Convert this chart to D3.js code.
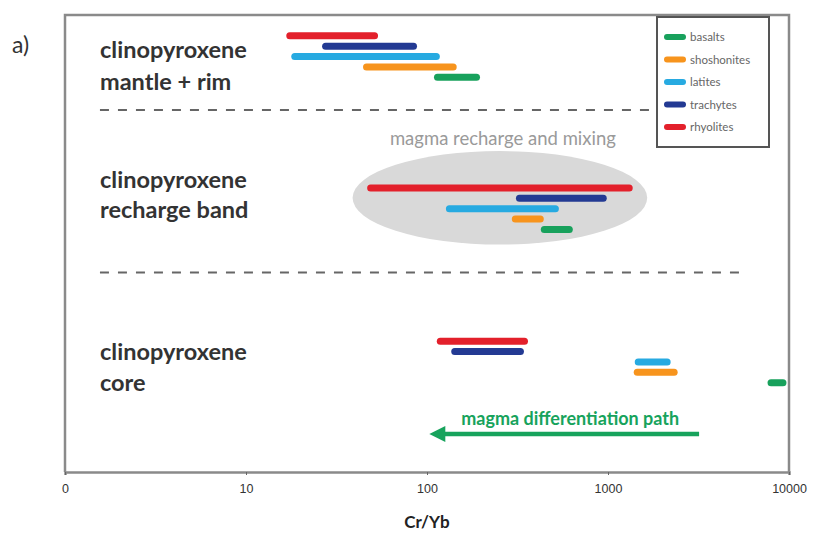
<!DOCTYPE html>
<html>
<head>
<meta charset="utf-8">
<script src="https://cdn.jsdelivr.net/npm/d3@7"></script>
<style>
  body { margin: 0; background: #fff; }
  svg { display: block; }
</style>
</head>
<body>
<div id="chart"></div>
<script>
const width = 818
const height = 533

// rock types, legend order
const rockTypes = ["basalts", "shoshonites", "latites", "trachytes", "rhyolites"]
const rockColors = ["#18a15c", "#f7941d", "#27aae1", "#233a93", "#e3202b"]

// Cr/Yb ranges per zone, same order as rockTypes
const mantleMin = [110, 44.6, 17.9, 26.5, 16.8]
const mantleMax = [195, 145, 117, 87.5, 53.3]
const rechargeMin = [428, 296, 128, 312, 47]
const rechargeMax = [635, 439, 532, 978, 1361]
const coreMin = [7660, 1396, 1414, 137, 114]
const coreMax = [9620, 2410, 2205, 341, 359]

const zoneNames = ["mantle + rim", "recharge band", "core"]
const tickVals = [1, 10, 100, 1000, 10000]
const tickLabels = ["0", "10", "100", "1000", "10000"]

// dashed separators and arrow, in Cr/Yb
const sepLines = [[1.56, 1800], [1.56, 5860]]
const arrowRange = [3186, 103]
const mixingRange = [38.8, 1647]

const svg = d3.select('#chart')
  .append("svg")
  .attr("width", width)
  .attr("height", height)

const x = d3.scaleLog().domain([1, 10000]).range([65, 789])
const y = d3.scaleLinear().domain([0, 44]).range([15, 472])

// zone layout: first row (rhyolites) of each zone
const zoneTop = [2, 16.65, 31.4]
const sepRows = [9.14, 24.8]
const labelRows = [[3.37, 6.45], [15.9, 18.8], [32.45, 35.4]]

// mixing ellipse
svg.append("ellipse")
  .attr("cx", (x(mixingRange[0]) + x(mixingRange[1])) / 2)
  .attr("cy", y(17.6))
  .attr("rx", (x(mixingRange[1]) - x(mixingRange[0])) / 2)
  .attr("ry", y(4.5) - y(0))
  .style("fill", "#d9d9d9")

svg.append("text")
  .attr("x", (x(mixingRange[0]) + x(mixingRange[1])) / 2 + 3)
  .attr("y", y(11.85))
  .attr("dy", "0.35em")
  .style("text-anchor", "middle")
  .style("font-family", "Lato, 'Open Sans', sans-serif")
  .style("font-size", "18.5px")
  .style("fill", "#9a9a9a")
  .text("magma recharge and mixing")

// frame
svg.append("path")
  .attr("d", `M${x(1)},${y(44)} V${y(0)} H${x(10000)} V${y(44)}`)
  .style("fill", "none")
  .style("stroke", "#8a8a8a")
  .style("stroke-width", 2.5)

// axis
const axis = svg.append("g")
  .attr("transform", `translate(0,${y(44)})`)
  .call(d3.axisBottom(x).tickValues(tickVals).tickSize(3)
    .tickFormat((d, i) => tickLabels[i]))
axis.select(".domain").style("stroke", "#8a8a8a").style("stroke-width", 2.5)
axis.selectAll(".tick line").style("stroke", "#666")
axis.selectAll(".tick text")
  .attr("y", 12)
  .style("font-family", "'Liberation Sans', Arial, sans-serif")
  .style("font-size", "12.5px")
  .style("fill", "#333")

svg.append("text")
  .attr("x", x(100))
  .attr("y", 528)
  .style("text-anchor", "middle")
  .style("font-family", "Lato, sans-serif")
  .style("font-weight", "bold")
  .style("font-size", "17px")
  .style("fill", "#222")
  .text("Cr/Yb")

svg.append("text")
  .attr("x", 12)
  .attr("y", 53)
  .style("font-family", "Lato, sans-serif")
  .style("font-size", "23px")
  .style("fill", "#333")
  .text("a)")

// separators
svg.selectAll(".sep")
  .data(sepLines)
  .enter()
  .append("line")
  .classed("sep", true)
  .attr("x1", d => x(d[0]))
  .attr("x2", d => x(d[1]))
  .attr("y1", (d, i) => y(sepRows[i]))
  .attr("y2", (d, i) => y(sepRows[i]))
  .style("stroke", "#666")
  .style("stroke-width", 2)
  .style("stroke-dasharray", "9,9")

// zone labels
zoneNames.forEach((z, i) => {
  const t = svg.append("text")
    .style("font-family", "Lato, sans-serif")
    .style("font-weight", "bold")
    .style("font-size", "23.5px")
    .style("fill", "#333")
  t.append("tspan").attr("x", 100).attr("y", y(labelRows[i][0])).attr("dy", "0.35em").text("clinopyroxene")
  t.append("tspan").attr("x", 100).attr("y", y(labelRows[i][1])).attr("dy", "0.35em").text(z)
})

// bars
const zoneMin = [mantleMin, rechargeMin, coreMin]
const zoneMax = [mantleMax, rechargeMax, coreMax]
const bars = []
zoneMin.forEach((mins, z) => {
  mins.forEach((m, i) => {
    bars.push({ zone: z, rock: i, lo: m, hi: zoneMax[z][i] })
  })
})

svg.selectAll(".bar")
  .data(bars)
  .enter()
  .append("line")
  .classed("bar", true)
  .attr("x1", d => x(d.lo) + 3)
  .attr("x2", d => x(d.hi) - 3)
  .attr("y1", d => y(zoneTop[d.zone] + (4 - d.rock)))
  .attr("y2", d => y(zoneTop[d.zone] + (4 - d.rock)))
  .style("stroke", d => rockColors[d.rock])
  .style("stroke-width", 7)
  .style("stroke-linecap", "round")

// differentiation arrow
const arrowY = y(40.34)
svg.append("line")
  .attr("x1", x(arrowRange[0]))
  .attr("x2", x(arrowRange[1]) + 12)
  .attr("y1", arrowY)
  .attr("y2", arrowY)
  .style("stroke", "#17a35c")
  .style("stroke-width", 4.5)
svg.append("path")
  .attr("d", `M${x(arrowRange[1])},${arrowY} l16,-8 v16 z`)
  .style("fill", "#17a35c")

svg.append("text")
  .attr("x", (x(arrowRange[0]) + x(arrowRange[1])) / 2 + 6)
  .attr("y", arrowY - 15)
  .attr("dy", "0.35em")
  .style("text-anchor", "middle")
  .style("font-family", "Lato, sans-serif")
  .style("font-weight", "bold")
  .style("font-size", "18px")
  .style("fill", "#17a35c")
  .text("magma differentiation path")

// legend
const legend = svg.append("g").attr("transform", "translate(657,17)")
legend.append("rect")
  .attr("width", 112)
  .attr("height", 130)
  .style("fill", "#fff")
  .style("stroke", "#555")
  .style("stroke-width", 2)

const items = legend.selectAll(".item")
  .data(rockTypes)
  .enter()
  .append("g")
  .classed("item", true)
  .attr("transform", (d, i) => `translate(0,${20 + i * 22.5})`)
items.append("line")
  .attr("x1", 10).attr("x2", 26)
  .style("stroke", (d, i) => rockColors[i])
  .style("stroke-width", 6)
  .style("stroke-linecap", "round")
items.append("text")
  .attr("x", 33)
  .attr("dy", "0.35em")
  .style("font-family", "Lato, sans-serif")
  .style("font-size", "11.5px")
  .style("fill", "#666")
  .text(d => d)
</script>
</body>
</html>
